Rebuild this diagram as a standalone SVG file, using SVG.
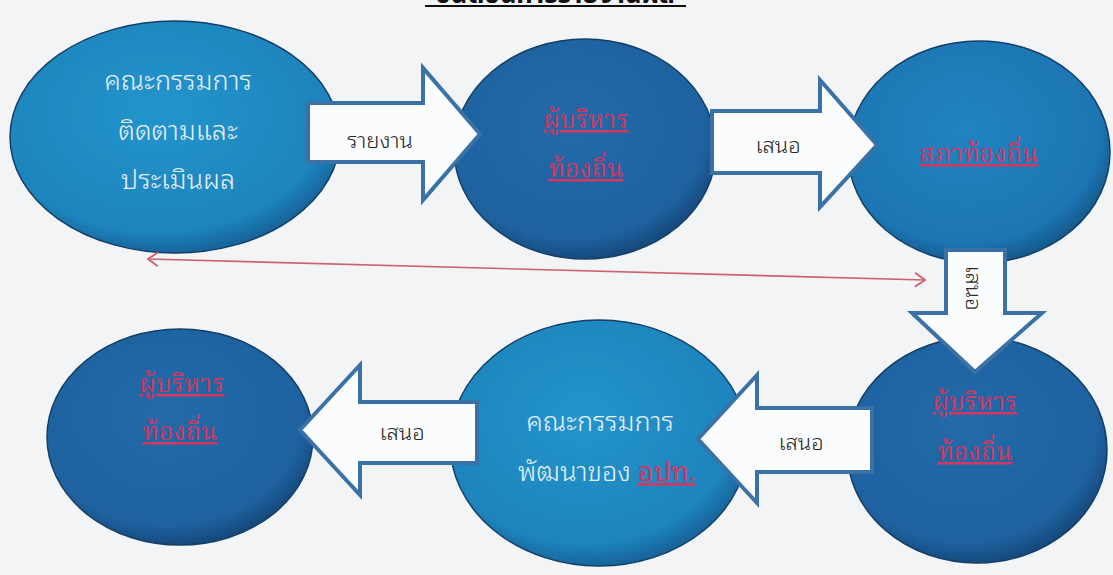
<svg xmlns="http://www.w3.org/2000/svg" width="1113" height="575" viewBox="0 0 1113 575">
  <defs>
    <radialGradient id="gLight" cx="0.45" cy="0.4" r="0.6">
      <stop offset="0" stop-color="#2395cc"/>
      <stop offset="0.85" stop-color="#1d84bd"/>
      <stop offset="1" stop-color="#17659c"/>
    </radialGradient>
    <radialGradient id="gMid" cx="0.45" cy="0.4" r="0.6">
      <stop offset="0" stop-color="#2183c0"/>
      <stop offset="0.85" stop-color="#1c76b3"/>
      <stop offset="1" stop-color="#155a8e"/>
    </radialGradient>
    <radialGradient id="gDark" cx="0.45" cy="0.4" r="0.6">
      <stop offset="0" stop-color="#226aa8"/>
      <stop offset="0.85" stop-color="#1e62a0"/>
      <stop offset="1" stop-color="#164a7e"/>
    </radialGradient>
    <marker id="chev" viewBox="0 0 12 16" refX="11" refY="8" markerWidth="12" markerHeight="16" markerUnits="userSpaceOnUse" orient="auto-start-reverse">
      <polyline points="1,1 11,8 1,15" fill="none" stroke="#d0606e" stroke-width="1.8"/>
    </marker>
  </defs>
  <style>
    .node { stroke: #143f66; stroke-width: 1.5; }
    .w { font-family: "Noto Sans Thai Looped", "Noto Sans Thai", Tahoma, sans-serif; font-size: 27px; font-weight: 300; fill: #e6eef6; text-anchor: middle; }
    .r { font-family: "Noto Serif Thai", "Noto Sans Thai Looped", "Noto Sans Thai", serif; font-size: 25px; fill: #d8355f; text-anchor: middle; text-decoration: underline; }
    .arrow { fill: #fbfcfd; stroke: #3a71a6; stroke-width: 4; stroke-linejoin: miter; }
    .lbl { font-family: "Noto Sans Thai Looped", "Noto Sans Thai", Tahoma, sans-serif; font-size: 22px; font-weight: 300; fill: #2a2a2a; text-anchor: middle; }
    .title { font-family: "Noto Sans Thai", Tahoma, sans-serif; font-size: 26px; font-weight: bold; fill: #111; text-anchor: middle; }
  </style>
  <rect width="1113" height="575" fill="#f3f4f6"/>

  <g id="title">
    <text class="title" x="555" y="3">ขั้นตอนการรายงานผล</text>
    <line x1="425" y1="6" x2="686" y2="6" stroke="#111" stroke-width="2"/>
  </g>

  <g id="node-committee-monitor">
    <ellipse class="node" cx="175" cy="137" rx="165" ry="116" fill="url(#gLight)"/>
    <text class="w" x="178" y="90">คณะกรรมการ</text>
    <text class="w" x="178" y="140">ติดตามและ</text>
    <text class="w" x="178" y="189">ประเมินผล</text>
  </g>
  <g id="node-exec-1">
    <ellipse class="node" cx="585" cy="149" rx="131" ry="110" fill="url(#gDark)"/>
    <text class="r" x="586" y="128">ผู้บริหาร</text>
    <text class="r" x="586" y="177">ท้องถิ่น</text>
  </g>
  <g id="node-council">
    <ellipse class="node" cx="979" cy="152" rx="131" ry="111" fill="url(#gMid)"/>
    <text class="r" x="979" y="162">สภาท้องถิ่น</text>
  </g>
  <g id="node-exec-2">
    <ellipse class="node" cx="977" cy="450" rx="130" ry="113" fill="url(#gDark)"/>
    <text class="r" x="975" y="410">ผู้บริหาร</text>
    <text class="r" x="975" y="460">ท้องถิ่น</text>
  </g>
  <g id="node-committee-dev">
    <ellipse class="node" cx="599" cy="443" rx="149" ry="123" fill="url(#gLight)"/>
    <text class="w" x="600" y="431">คณะกรรมการ</text>
    <text class="w" x="607" y="481">พัฒนาของ <tspan fill="#d8355f" font-weight="400" text-decoration="underline">อปท.</tspan></text>
  </g>
  <g id="node-exec-3">
    <ellipse class="node" cx="180" cy="437" rx="133" ry="108" fill="url(#gDark)"/>
    <text class="r" x="182" y="392">ผู้บริหาร</text>
    <text class="r" x="180" y="440">ท้องถิ่น</text>
  </g>

  <g id="connectors">
    <polygon class="arrow" points="308,103 423,103 423,68 480,134 423,200 423,162 308,162"/>
    <text class="lbl" x="380" y="148">รายงาน</text>

    <polygon class="arrow" points="712,111 820,111 820,80 877,145 820,207 820,173 712,173"/>
    <text class="lbl" x="778" y="153">เสนอ</text>

    <polygon class="arrow" points="946,250 1005,250 1005,313 1042,313 975,372 912,313 946,313"/>
    <text class="lbl" transform="translate(966,288) rotate(90)" x="0" y="0">เสนอ</text>

    <polygon class="arrow" points="872,408 757,408 757,375 698,439 757,503 757,472 872,472"/>
    <text class="lbl" x="801" y="450">เสนอ</text>

    <polygon class="arrow" points="477,402 360,402 360,365 300,430 360,495 360,463 477,463"/>
    <text class="lbl" x="402" y="440">เสนอ</text>

    <line x1="148" y1="259" x2="925" y2="280" stroke="#d0606e" stroke-width="1.6" marker-start="url(#chev)" marker-end="url(#chev)"/>
  </g>
</svg>
